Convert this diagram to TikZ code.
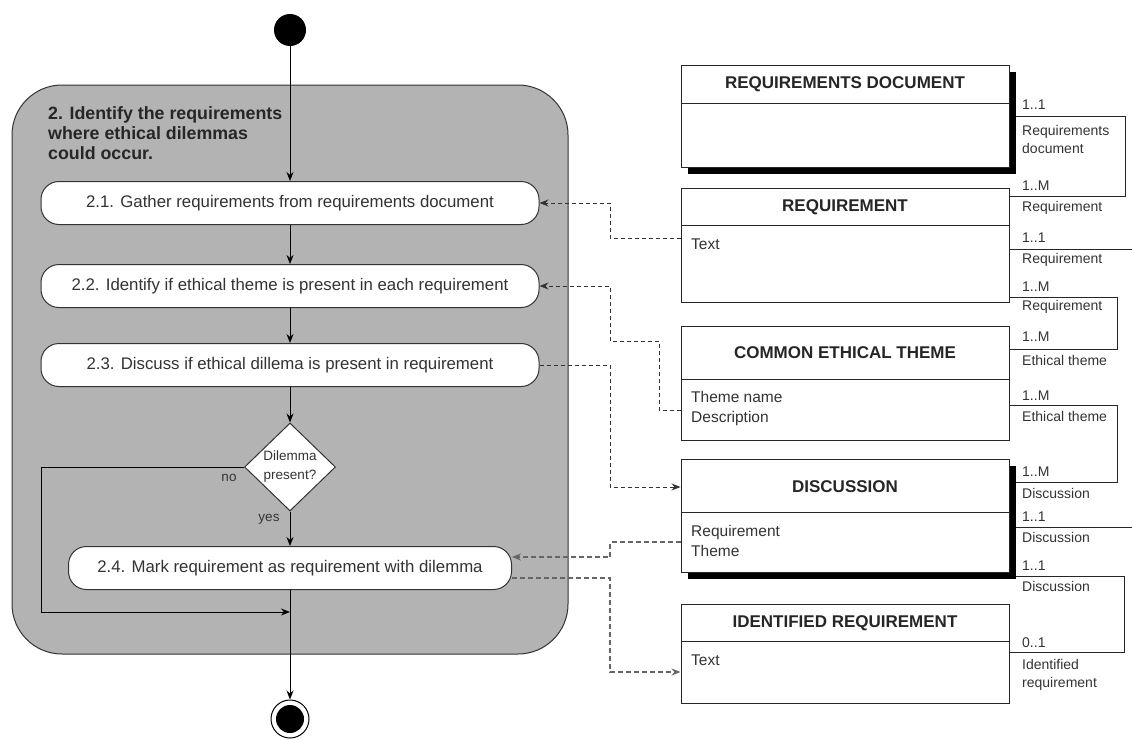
\documentclass[tikz,border=0pt]{standalone}
\usepackage{fontspec}
\setmainfont{Liberation Sans}
\usetikzlibrary{arrows.meta,shapes.geometric,shadows,backgrounds,calc}
\definecolor{panel}{HTML}{B3B3B3}
\definecolor{ink}{HTML}{333333}
\begin{document}
\begin{tikzpicture}[x=1pt,y=-1pt,
  tip/.style={-{Stealth[length=9pt,width=7pt]}},
  flow/.style={tip, line width=1pt, black},
  dsh/.style={tip, line width=1pt, black!80, dash pattern=on 4pt off 3pt},
  dshb/.style={tip, line width=1.5pt, black!60, dash pattern=on 5pt off 3pt},
  rel/.style={line width=1pt, black!85},
  act/.style={draw=black!80, fill=white, rounded corners=18pt, line width=1pt,
    minimum height=43pt, text=ink, font=\fontsize{16.8}{18}\selectfont, inner sep=0pt},
  ent/.style={draw=black!85, fill=white, line width=1pt, minimum width=328pt, inner sep=0pt},
  shad/.style={drop shadow={shadow xshift=7pt, shadow yshift=-7pt, fill=black, opacity=1}},
  hdr/.style={font=\bfseries\fontsize{17}{20}\selectfont, text=black!85, inner sep=0pt},
  body/.style={font=\fontsize{15.5}{20}\selectfont, text=ink, anchor=west, align=left, inner sep=0pt},
  lbl/.style={font=\fontsize{14}{18}\selectfont, text=ink, anchor=west, align=left, inner sep=0pt},
  small/.style={font=\fontsize{13.5}{19}\selectfont, text=ink, inner sep=0pt, align=center}
]
\useasboundingbox (0,0) rectangle (1132,739);

% ---------- activity: identify requirements with dilemmas ----------
\node[draw=black!80, fill=panel, line width=1pt, rounded corners=50pt,
  minimum width=556pt, minimum height=569pt, inner sep=0pt] (grp) at (290,369.5) {};
\node[anchor=north west, font=\bfseries\fontsize{17.8}{20}\selectfont, align=left,
  text=black!85, inner sep=0pt] (ttl) at (48,106)
  {2. Identify the requirements\\where ethical dilemmas\\could occur.};

\node[circle, fill=black, minimum size=32pt, inner sep=0pt] (st) at (290,30) {};

\node[act, minimum width=498pt] (a1) at (290,203) {2.1. Gather requirements from requirements document};
\node[act, minimum width=498pt] (a2) at (290,286) {2.2. Identify if ethical theme is present in each requirement};
\node[act, minimum width=498pt] (a3) at (290,365) {2.3. Discuss if ethical dillema is present in requirement};
\node[diamond, draw=black!80, fill=white, line width=1pt, minimum width=91pt,
  minimum height=88pt, inner sep=0pt] (dm) at (290,467) {};
\node[small] (dmt) at (dm) {Dilemma\\present?};
\node[act, minimum width=443pt] (a4) at (290,568) {2.4. Mark requirement as requirement with dilemma};

\node[circle, draw=black, fill=white, line width=1pt, minimum size=38pt, inner sep=0pt] (en) at (290,719) {};
\node[circle, fill=black, minimum size=28pt, inner sep=0pt] (enin) at (en) {};

\coordinate (mg) at (290,612);

\draw[flow] (st) -- (a1);
\draw[flow] (a1) -- (a2);
\draw[flow] (a2) -- (a3);
\draw[flow] (a3) -- (dm);
\draw[flow] (dm) -- (a4);
\draw[flow] (a4) -- (en);
\draw[flow] (dm.west) -- (41,467) -- (41,612) -- (mg);
\node[small] (no) at (229,478) {no};
\node[small] (yes) at (269,519) {yes};

% ---------- data entities ----------
\node[ent, shad, minimum height=102pt] (rd) at (845,116) {};
\draw[rel] (rd.west |- 0,103) -- (rd.east |- 0,103);
\node[hdr] (rdh) at (845,84) {REQUIREMENTS DOCUMENT};

\node[ent, minimum height=114pt] (rq) at (845,245) {};
\draw[rel] (rq.west |- 0,225) -- (rq.east |- 0,225);
\node[hdr] (rqh) at (845,207) {REQUIREMENT};
\node[body] (rqb) at (691,244) {Text};

\node[ent, minimum height=114pt] (ce) at (845,383) {};
\draw[rel] (ce.west |- 0,379) -- (ce.east |- 0,379);
\node[hdr] (ceh) at (845,353) {COMMON ETHICAL THEME};
\node[body] (ceb) at (691,408) {Theme name\\Description};

\node[ent, shad, minimum height=113pt] (ds) at (845,515.5) {};
\draw[rel] (ds.west |- 0,512) -- (ds.east |- 0,512);
\node[hdr] (dsh) at (845,487) {DISCUSSION};
\node[body] (dsb) at (691,541) {Requirement\\Theme};

\node[ent, minimum height=99pt] (ir) at (845,653.5) {};
\draw[rel] (ir.west |- 0,641) -- (ir.east |- 0,641);
\node[hdr] (irh) at (845,623) {IDENTIFIED REQUIREMENT};
\node[body] (irb) at (691,660) {Text};

% ---------- relationships between entities ----------
\begin{pgfonlayer}{background}
\draw[rel] (rd.east |- 0,116) -- (1125,116) -- (1125,196) -- (rq.east |- 0,196);
\draw[rel] (rq.east |- 0,249) -- (1132,249);
\draw[rel] (rq.east |- 0,297) -- (1117,297) -- (1117,349) -- (ce.east |- 0,349);
\draw[rel] (ce.east |- 0,405) -- (1117,405) -- (1117,482) -- (ds.east |- 0,482);
\draw[rel] (ds.east |- 0,527) -- (1132,527);
\draw[rel] (ds.east |- 0,576) -- (1124,576) -- (1124,652) -- (ir.east |- 0,652);
\end{pgfonlayer}

\node[lbl] at (1022,105) {1..1};
\node[lbl] at (1022,139) {Requirements\\document};
\node[lbl] at (1022,186) {1..M};
\node[lbl] at (1022,208) {Requirement};
\node[lbl] at (1022,238) {1..1};
\node[lbl] at (1022,260) {Requirement};
\node[lbl] at (1022,287) {1..M};
\node[lbl] at (1022,307) {Requirement};
\node[lbl] at (1022,337) {1..M};
\node[lbl] at (1022,360) {Ethical theme};
\node[lbl] at (1022,396) {1..M};
\node[lbl] at (1022,416) {Ethical theme};
\node[lbl] at (1022,472) {1..M};
\node[lbl] at (1022,493) {Discussion};
\node[lbl] at (1022,517) {1..1};
\node[lbl] at (1022,537) {Discussion};
\node[lbl] at (1022,566) {1..1};
\node[lbl] at (1022,586) {Discussion};
\node[lbl] at (1022,643) {0..1};
\node[lbl] at (1022,675) {Identified\\requirement};

% ---------- data flows between activities and entities ----------
\draw[dsh] (rq.west |- 0,238) -- (610,238) |- (a1.east);
\draw[dsh] (ce.west |- 0,410) -- (659,410) -- (659,341) -- (610,341) |- (a2.east);
\draw[dsh] (a3.east) -- (610,365) |- (ds.west |- 0,487);
\draw[dshb] (ds.west |- 0,542) -- (610,542) |- (a4.east |- 0,557);
\draw[dshb] (a4.east |- 0,578) -- (610,578) |- (ir.west |- 0,672);
\end{tikzpicture}
\end{document}
